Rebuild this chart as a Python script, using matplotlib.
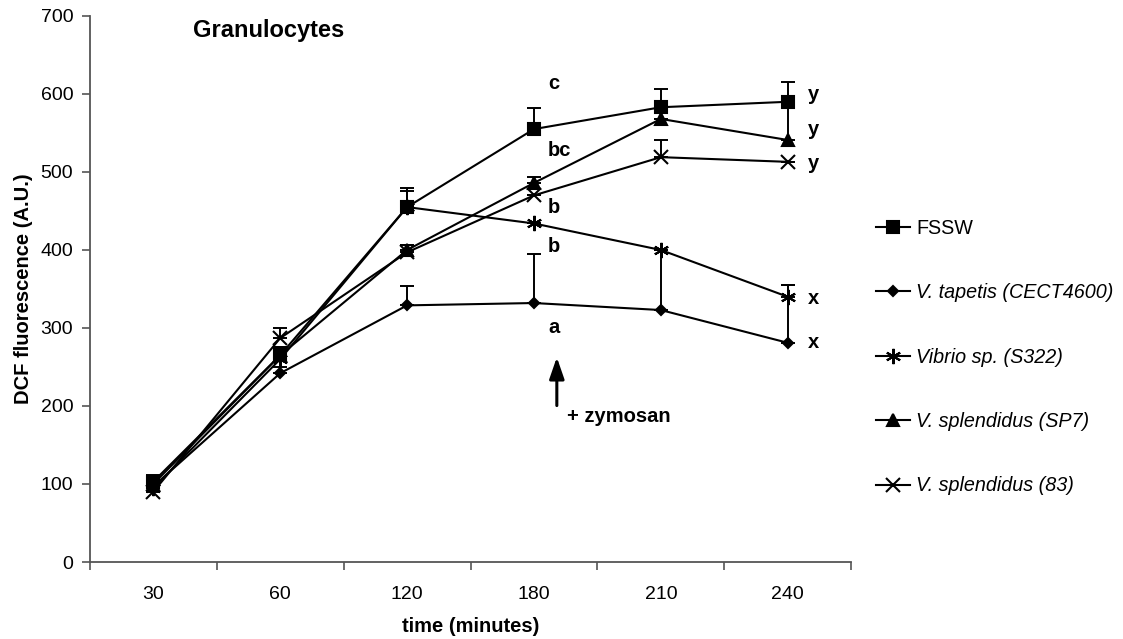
import numpy as np
import matplotlib
matplotlib.use("Agg")
import matplotlib.pyplot as plt

plt.rcParams["font.family"] = ["Liberation Sans", "DejaVu Sans"]

# data
times = ["30", "60", "120", "180", "210", "240"]

fssw = [103, 265, 455, 555, 583, 590]
fssw_err = [8, 10, 24, 27, 23, 25]

tapetis = [97, 242, 329, 332, 323, 281]
tapetis_err = [5, 8, 25, 63, 77, 74]

vibrio = [95, 260, 455, 434, 400, 340]
vibrio_err = [6, 10, 20, 0, 0, 15]

sp7 = [100, 265, 400, 486, 568, 541]
sp7_err = [6, 10, 7, 8, 0, 48]

v83 = [90, 287, 397, 470, 519, 513]
v83_err = [8, 13, 10, 0, 22, 0]

letters_180 = [("c", 614), ("bc", 528), ("b", 455), ("b", 404), ("a", 300)]
letters_240 = [("y", 599), ("y", 554), ("y", 511), ("x", 338), ("x", 281)]

series = [
    ("FSSW", fssw, fssw_err, "s", 8, "normal"),
    ("V. tapetis (CECT4600)", tapetis, tapetis_err, "D", 5.5, "italic"),
    ("Vibrio sp. (S322)", vibrio, vibrio_err, (6, 2, 0), 11, "italic"),
    ("V. splendidus (SP7)", sp7, sp7_err, "^", 8, "italic"),
    ("V. splendidus (83)", v83, v83_err, "x", 9.5, "italic"),
]

FS = 14.5

fig = plt.figure(figsize=(11.23, 6.39), dpi=100)
ax = fig.add_axes([0.080, 0.1205, 0.678, 0.8545])

x = np.arange(len(times))
handles = []
for name, vals, err, mk, ms, style in series:
    vals = np.array(vals, dtype=float)
    err = np.array(err, dtype=float)
    # only the upper half of the error bars is shown
    ax.errorbar(x, vals, yerr=[np.zeros_like(err), err], fmt="none",
                ecolor="black", elinewidth=1.4, capsize=5, capthick=1.4)
    h, = ax.plot(x, vals, color="black", linewidth=1.5, marker=mk,
                 markersize=ms, markerfacecolor="black",
                 markeredgecolor="black", markeredgewidth=1.5, label=name)
    handles.append(h)

# significance letters
for txt, yv in letters_180:
    ax.text(3.11, yv, txt, fontsize=FS, fontweight="bold", ha="left", va="center")
for txt, yv in letters_240:
    ax.text(5.16, yv, txt, fontsize=FS, fontweight="bold", ha="left", va="center")

# zymosan arrow
ax.annotate("", xy=(3.18, 266), xytext=(3.18, 197),
            arrowprops=dict(arrowstyle="-|>,head_width=0.45,head_length=1.3",
                            color="black", lw=2.2))
ax.text(3.26, 186, "+ zymosan", fontsize=FS, fontweight="bold",
        ha="left", va="center")

ax.text(0.31, 682, "Granulocytes", fontsize=17, fontweight="bold",
        ha="left", va="center")

ax.set_xlim(-0.5, 5.5)
ax.set_ylim(0, 700)
ax.set_xticks(x)
ax.set_xticklabels(times)
ax.set_xticks(np.arange(-0.5, 5.6, 1.0), minor=True)
ax.tick_params(axis="x", which="major", length=0, pad=17, labelsize=14)
ax.tick_params(axis="x", which="minor", length=6, width=1.2, direction="out",
               color="#555555")
ax.tick_params(axis="y", length=6, width=1.2, direction="out", labelsize=14,
               pad=6, color="#555555")
ax.set_yticks(np.arange(0, 701, 100))

ax.spines["top"].set_visible(False)
ax.spines["right"].set_visible(False)
for sp in ("left", "bottom"):
    ax.spines[sp].set_color("#555555")
    ax.spines[sp].set_linewidth(1.3)

ax.set_xlabel("time (minutes)", fontsize=FS, fontweight="bold", labelpad=10)
ax.set_ylabel("DCF fluorescence (A.U.)", fontsize=FS, fontweight="bold", labelpad=5)

leg = fig.legend(handles=handles, loc="upper left",
                 bbox_to_anchor=(0.764, 0.685), frameon=False,
                 fontsize=14.2, labelspacing=2.3, handlelength=1.75,
                 handletextpad=0.3)
for t, (_, _, _, _, _, style) in zip(leg.get_texts(), series):
    t.set_fontstyle(style)

fig.savefig("out.png", dpi=100)
